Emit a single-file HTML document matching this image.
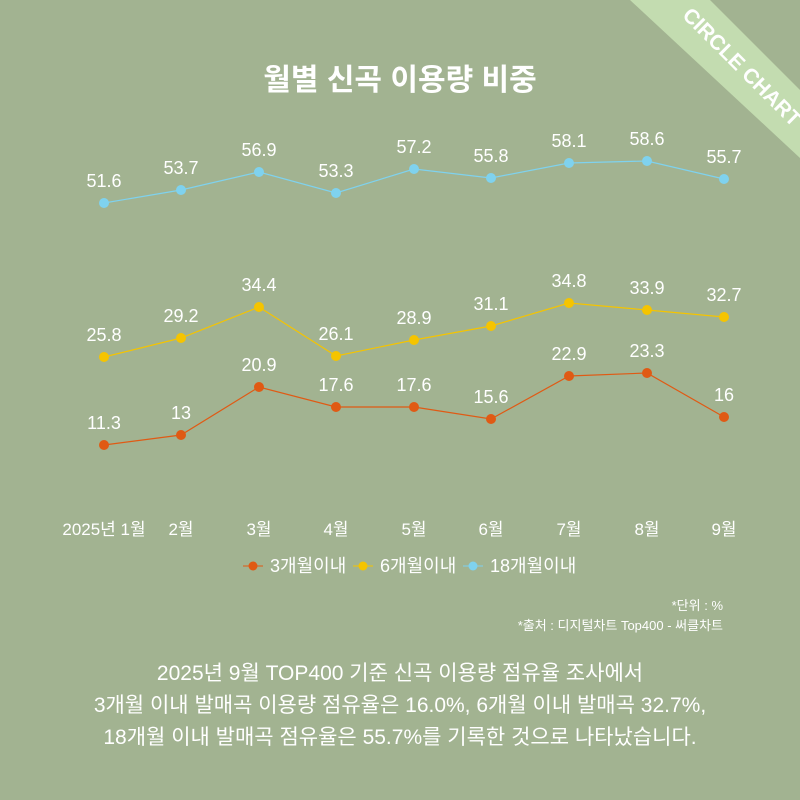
<!DOCTYPE html>
<html><head><meta charset="utf-8"><style>
body{margin:0;width:800px;height:800px;background:#a2b391;overflow:hidden;position:relative;font-family:"Liberation Sans","Noto Sans CJK KR",sans-serif;color:#fff}
</style></head><body>
<svg width="800" height="800" style="position:absolute;left:0;top:0" font-family="Liberation Sans, Noto Sans CJK KR, sans-serif">
<polygon points="630,0 710,0 800,90 800,158" fill="#c3dcb0"/>
<text x="0" y="0" transform="translate(737,72) rotate(45)" font-size="21" font-weight="bold" fill="#fff" text-anchor="middle">CIRCLE CHART</text>
<text x="400" y="90" font-size="30" font-weight="bold" fill="#fff" text-anchor="middle">월별 신곡 이용량 비중</text>
<g fill="none" stroke-width="1.2">
<polyline stroke="#7fd2ee" points="104,203 181,190 259,172 336,193 414,169 491,178 569,163 647,161 724,179"/>
<polyline stroke="#f5c400" points="104,357 181,338 259,307 336,356 414,340 491,326 569,303 647,310 724,317"/>
<polyline stroke="#e05a14" points="104,445 181,435 259,387 336,407 414,407 491,419 569,376 647,373 724,417"/>
</g>
<g fill="#7fd2ee"><circle cx="104" cy="203" r="5"/><circle cx="181" cy="190" r="5"/><circle cx="259" cy="172" r="5"/><circle cx="336" cy="193" r="5"/><circle cx="414" cy="169" r="5"/><circle cx="491" cy="178" r="5"/><circle cx="569" cy="163" r="5"/><circle cx="647" cy="161" r="5"/><circle cx="724" cy="179" r="5"/></g>
<g fill="#f5c400"><circle cx="104" cy="357" r="5"/><circle cx="181" cy="338" r="5"/><circle cx="259" cy="307" r="5"/><circle cx="336" cy="356" r="5"/><circle cx="414" cy="340" r="5"/><circle cx="491" cy="326" r="5"/><circle cx="569" cy="303" r="5"/><circle cx="647" cy="310" r="5"/><circle cx="724" cy="317" r="5"/></g>
<g fill="#e05a14"><circle cx="104" cy="445" r="5"/><circle cx="181" cy="435" r="5"/><circle cx="259" cy="387" r="5"/><circle cx="336" cy="407" r="5"/><circle cx="414" cy="407" r="5"/><circle cx="491" cy="419" r="5"/><circle cx="569" cy="376" r="5"/><circle cx="647" cy="373" r="5"/><circle cx="724" cy="417" r="5"/></g>
<g fill="#fff" font-size="18" text-anchor="middle">
<text x="104" y="187">51.6</text><text x="181" y="174">53.7</text><text x="259" y="156">56.9</text><text x="336" y="177">53.3</text><text x="414" y="153">57.2</text><text x="491" y="162">55.8</text><text x="569" y="147">58.1</text><text x="647" y="145">58.6</text><text x="724" y="163">55.7</text>
<text x="104" y="341">25.8</text><text x="181" y="322">29.2</text><text x="259" y="291">34.4</text><text x="336" y="340">26.1</text><text x="414" y="324">28.9</text><text x="491" y="310">31.1</text><text x="569" y="287">34.8</text><text x="647" y="294">33.9</text><text x="724" y="301">32.7</text>
<text x="104" y="429">11.3</text><text x="181" y="419">13</text><text x="259" y="371">20.9</text><text x="336" y="391">17.6</text><text x="414" y="391">17.6</text><text x="491" y="403">15.6</text><text x="569" y="360">22.9</text><text x="647" y="357">23.3</text><text x="724" y="401">16</text>
</g>
<g fill="#fff" font-size="17" text-anchor="middle">
<text x="104" y="535">2025년 1월</text><text x="181" y="535">2월</text><text x="259" y="535">3월</text><text x="336" y="535">4월</text><text x="414" y="535">5월</text><text x="491" y="535">6월</text><text x="569" y="535">7월</text><text x="647" y="535">8월</text><text x="724" y="535">9월</text>
</g>
<g font-size="18" fill="#fff">
<line x1="243" y1="566" x2="263" y2="566" stroke="#e05a14"/><circle cx="253" cy="566" r="4.5" fill="#e05a14"/><text x="270" y="572">3개월이내</text>
<line x1="353" y1="566" x2="373" y2="566" stroke="#f5c400"/><circle cx="363" cy="566" r="4.5" fill="#f5c400"/><text x="380" y="572">6개월이내</text>
<line x1="463" y1="566" x2="483" y2="566" stroke="#7fd2ee"/><circle cx="473" cy="566" r="4.5" fill="#7fd2ee"/><text x="490" y="572">18개월이내</text>
</g>
<g font-size="13" fill="#fff" text-anchor="end">
<text x="723" y="610">*단위 : %</text>
<text x="723" y="630">*출처 :  디지털차트 Top400 - 써클차트</text>
</g>
<g font-size="21" fill="#fff" text-anchor="middle">
<text x="400" y="680">2025년 9월 TOP400 기준 신곡 이용량 점유율 조사에서</text>
<text x="400" y="712">3개월 이내 발매곡 이용량 점유율은 16.0%, 6개월 이내 발매곡 32.7%,</text>
<text x="400" y="744">18개월 이내 발매곡 점유율은 55.7%를 기록한 것으로 나타났습니다.</text>
</g>
</svg>
</body></html>
